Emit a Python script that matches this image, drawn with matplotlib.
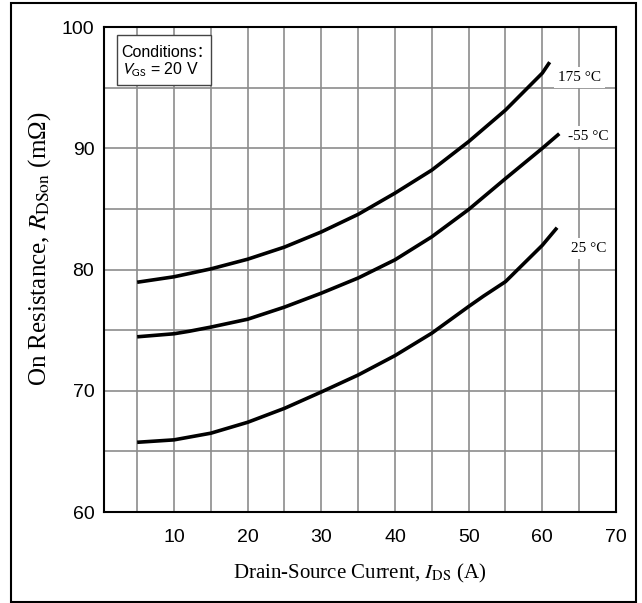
import numpy as np
import matplotlib.pyplot as plt
from matplotlib.patches import Rectangle

# On-resistance vs drain current, read per temperature
i_175 = [5, 10, 15, 20, 25, 30, 35, 40, 45, 50, 55, 60, 61]
r_175 = [78.95, 79.4, 80.05, 80.85, 81.85, 83.1, 84.55, 86.3, 88.2, 90.55, 93.15, 96.2, 97.1]

i_m55 = [5, 10, 12, 15, 20, 25, 30, 35, 40, 45, 50, 55, 60, 62.3]
r_m55 = [74.45, 74.7, 74.9, 75.25, 75.9, 76.9, 78.05, 79.3, 80.8, 82.7, 84.95, 87.5, 90.0, 91.2]

i_25 = [5, 10, 15, 20, 25, 30, 35, 40, 45, 50, 52, 55, 58, 60, 62]
r_25 = [65.75, 65.95, 66.5, 67.4, 68.55, 69.9, 71.3, 72.9, 74.75, 76.95, 77.8, 79.0, 80.8, 82.0, 83.45]

curve_labels = ["175 \u00b0C", "-55 \u00b0C", "25 \u00b0C"]
label_pos = [(65.0, 95.85), (66.2, 91.0), (66.3, 81.75)]

xticks = [10, 20, 30, 40, 50, 60, 70]
yticks = [60, 70, 80, 90, 100]

sans = ["Liberation Sans", "Noto Sans CJK SC"]
serif = "Liberation Serif"

fig = plt.figure(figsize=(6.42, 6.03), dpi=100)
ax = fig.add_axes([0.162, 0.1509, 0.7975, 0.8043])

ax.set_xlim(0.5, 70)
ax.set_ylim(60, 100)
ax.set_xticks(xticks)
ax.set_yticks(yticks)
ax.set_xticks(np.arange(5, 70, 5), minor=True)
ax.set_yticks(np.arange(65, 100, 5), minor=True)
ax.grid(True, which="both", color="#8c8c8c", lw=1.2)
ax.set_axisbelow(True)
ax.tick_params(which="both", length=0)
ax.tick_params(axis="x", pad=12)
ax.tick_params(axis="y", pad=7)
for lab in ax.get_xticklabels() + ax.get_yticklabels():
    lab.set_family(sans)
    lab.set_fontsize(14)
for sp in ax.spines.values():
    sp.set_linewidth(1.5)
    sp.set_color("black")

for xs, ys in [(i_175, r_175), (i_m55, r_m55), (i_25, r_25)]:
    ax.plot(xs, ys, color="black", lw=2.6, solid_capstyle="butt")

for txt, (tx, ty) in zip(curve_labels, label_pos):
    ax.text(tx, ty, txt, family=serif, fontsize=11, ha="center", va="center",
            bbox=dict(facecolor="white", edgecolor="none", pad=3))

# conditions box
ax.add_patch(Rectangle((0.0254, 0.8804), 0.1836, 0.1031, transform=ax.transAxes,
                       facecolor="white", edgecolor="#444444", lw=1.0, zorder=4))
ax.text(0.033, 0.938, "Conditions\uff1a", transform=ax.transAxes, family=sans,
        fontsize=11.5, va="baseline", ha="left", zorder=5)
ax.text(0.033, 0.901, "$V_{\\mathrm{GS}}$ = 20 V", transform=ax.transAxes,
        family=sans, fontsize=11.5, va="baseline", ha="left",
        math_fontfamily="stixsans", zorder=5)

ax.set_xlabel("Drain-Source Current, $I_{\\mathrm{DS}}$ (A)", family=serif,
              fontsize=15, math_fontfamily="stix", labelpad=12)
ax.set_ylabel("On Resistance, $R_{\\mathrm{DSon}}$ (m\u03a9)", family=serif,
              fontsize=18, math_fontfamily="stix")
ax.yaxis.set_label_coords(-0.10, 0.542)

# frame around the whole figure
fig.patches.append(Rectangle((11 / 642, 1 - 602 / 603), 625 / 642, 599 / 603,
                             transform=fig.transFigure, fill=False,
                             edgecolor="black", lw=1.5))

fig.savefig("out.png", dpi=100)
